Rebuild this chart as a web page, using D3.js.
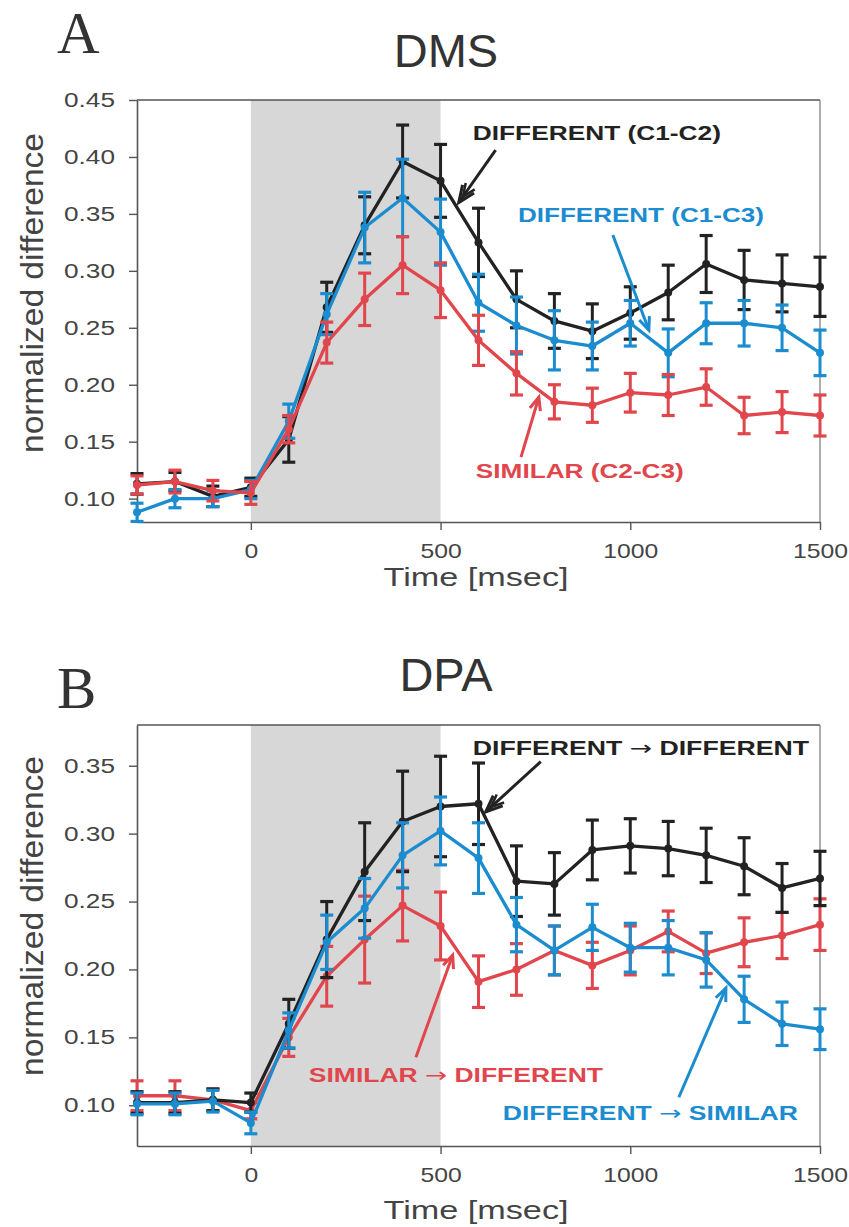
<!DOCTYPE html>
<html>
<head>
<meta charset="utf-8">
<script src="https://cdn.jsdelivr.net/npm/d3@7"></script>
<style>
  body { margin: 0; background: #fff; }
  svg { display: block; }
</style>
</head>
<body>
<div id="chart"></div>
<script>
(function(){
    "use strict";

    // sample times (ms)
    var times = [-300, -200, -100, 0, 100, 200, 300, 400, 500, 600, 700, 800, 900, 1000, 1100, 1200, 1300, 1400, 1500];
    var sampleWindow = [0, 500];
    var xTicks = [0, 500, 1000, 1500];
    var yTicksDms = [0.10, 0.15, 0.20, 0.25, 0.30, 0.35, 0.40, 0.45];
    var yTicksDpa = [0.10, 0.15, 0.20, 0.25, 0.30, 0.35];

    // A: DMS
    var dmsC1C2 = [0.113, 0.115, 0.102, 0.110, 0.152, 0.268, 0.340, 0.396, 0.379, 0.325, 0.275, 0.256, 0.247, 0.263, 0.281, 0.306, 0.292, 0.289, 0.286];
    var dmsC1C2Err = [0.009, 0.008, 0.009, 0.008, 0.020, 0.022, 0.025, 0.032, 0.032, 0.030, 0.025, 0.024, 0.024, 0.023, 0.024, 0.025, 0.026, 0.025, 0.026];
    var dmsC1C3 = [0.088, 0.100, 0.100, 0.108, 0.168, 0.262, 0.338, 0.364, 0.334, 0.272, 0.252, 0.239, 0.234, 0.254, 0.228, 0.254, 0.254, 0.250, 0.228];
    var dmsC1C3Err = [0.008, 0.008, 0.007, 0.008, 0.015, 0.018, 0.031, 0.034, 0.029, 0.025, 0.025, 0.026, 0.021, 0.020, 0.021, 0.018, 0.020, 0.020, 0.020];
    var dmsC2C3 = [0.112, 0.115, 0.107, 0.105, 0.161, 0.237, 0.275, 0.305, 0.283, 0.239, 0.210, 0.185, 0.182, 0.193, 0.191, 0.198, 0.173, 0.176, 0.173];
    var dmsC2C3Err = [0.008, 0.010, 0.009, 0.010, 0.012, 0.018, 0.023, 0.025, 0.024, 0.022, 0.019, 0.015, 0.015, 0.017, 0.018, 0.016, 0.016, 0.018, 0.018];

    // B: DPA
    var dpaDiffDiff = [0.102, 0.102, 0.104, 0.102, 0.160, 0.222, 0.272, 0.309, 0.320, 0.322, 0.265, 0.263, 0.288, 0.291, 0.289, 0.284, 0.276, 0.260, 0.267];
    var dpaDiffDiffErr = [0.008, 0.008, 0.008, 0.007, 0.018, 0.028, 0.036, 0.037, 0.037, 0.030, 0.026, 0.023, 0.022, 0.020, 0.020, 0.020, 0.021, 0.018, 0.020];
    var dpaDiffSim = [0.101, 0.101, 0.103, 0.087, 0.155, 0.220, 0.245, 0.284, 0.302, 0.282, 0.233, 0.214, 0.231, 0.216, 0.216, 0.207, 0.178, 0.160, 0.156];
    var dpaDiffSimErr = [0.008, 0.008, 0.008, 0.008, 0.013, 0.020, 0.022, 0.024, 0.025, 0.026, 0.020, 0.018, 0.017, 0.018, 0.020, 0.020, 0.017, 0.016, 0.015];
    var dpaSimDiff = [0.107, 0.107, 0.104, 0.096, 0.150, 0.195, 0.222, 0.247, 0.232, 0.191, 0.200, 0.214, 0.203, 0.214, 0.228, 0.212, 0.220, 0.225, 0.233];
    var dpaSimDiffErr = [0.011, 0.011, 0.008, 0.006, 0.014, 0.022, 0.032, 0.026, 0.025, 0.019, 0.019, 0.018, 0.017, 0.018, 0.015, 0.015, 0.018, 0.017, 0.019];

    var BLACK = "#222222", BLUE = "#1a8ccf", RED = "#e0464c";
    var SANS = "'Liberation Sans', Arial, sans-serif";

    var width = 849, height = 1227;
    var left = 137, right = 820;

    var svg = d3.select("#chart").append("svg")
        .attr("width", width)
        .attr("height", height);

    var x = d3.scaleLinear().domain([-300, 1500]).range([left, right]);

    var panels = [
        {
            letter: "A", letterY: 53, title: "DMS", titleY: 67,
            top: 100, bottom: 522, yDomain: [0.0795, 0.45], yTicks: yTicksDms,
            ylabelY: 293, xlabelY: 586,
            series: [
                { values: dmsC1C2, err: dmsC1C2Err, color: BLACK },
                { values: dmsC1C3, err: dmsC1C3Err, color: BLUE },
                { values: dmsC2C3, err: dmsC2C3Err, color: RED }
            ],
            notes: [
                { parts: ["DIFFERENT (C1-C2)"], color: BLACK, from: 585, to: 1239, at: 0.415,
                  arrow: [[645, 0.406], [548, 0.360]], double: true },
                { parts: ["DIFFERENT (C1-C3)"], color: BLUE, from: 704, to: 1352, at: 0.343,
                  arrow: [[954, 0.3315], [1049, 0.248]] },
                { parts: ["SIMILAR (C2-C3)"], color: RED, from: 593, to: 1141, at: 0.118,
                  arrow: [[712, 0.1365], [759, 0.189]] }
            ]
        },
        {
            letter: "B", letterY: 708, title: "DPA", titleY: 691,
            top: 725, bottom: 1146, yDomain: [0.07, 0.38], yTicks: yTicksDpa,
            ylabelY: 916, xlabelY: 1219,
            series: [
                { values: dpaSimDiff, err: dpaSimDiffErr, color: RED },
                { values: dpaDiffDiff, err: dpaDiffDiffErr, color: BLACK },
                { values: dpaDiffSim, err: dpaDiffSimErr, color: BLUE }
            ],
            notes: [
                { parts: ["DIFFERENT ", "\u2192", " DIFFERENT"], color: BLACK, from: 585, to: 1471, at: 0.358,
                  arrow: [[764, 0.353], [619, 0.316]], double: true },
                { parts: ["SIMILAR ", "\u2192", " DIFFERENT"], color: RED, from: 153, to: 928, at: 0.117,
                  arrow: [[435, 0.1354], [532, 0.2106]] },
                { parts: ["DIFFERENT ", "\u2192", " SIMILAR"], color: BLUE, from: 664, to: 1442, at: 0.089,
                  arrow: [[1128, 0.1059], [1252, 0.1863]] }
            ]
        }
    ];

    function drawArrow(g, p0, p1, color, double) {
        g.append("line")
            .attr("x1", p0[0]).attr("y1", p0[1])
            .attr("x2", p1[0]).attr("y2", p1[1])
            .attr("stroke", color)
            .attr("stroke-width", 3);
        var ang = Math.atan2(p1[1] - p0[1], p1[0] - p0[0]);
        var spread = 0.4;
        var head = function(tip, l) {
            var a1 = ang + Math.PI - spread, a2 = ang + Math.PI + spread;
            return "M" + (tip[0] + l * Math.cos(a1)) + "," + (tip[1] + l * Math.sin(a1)) +
                "L" + tip[0] + "," + tip[1] +
                "L" + (tip[0] + l * Math.cos(a2)) + "," + (tip[1] + l * Math.sin(a2));
        };
        g.append("path")
            .attr("d", head(p1, double ? 18 : 14))
            .attr("fill", "none")
            .attr("stroke", color)
            .attr("stroke-width", 3);
        if (double) {
            var back = [p1[0] - 7 * Math.cos(ang), p1[1] - 7 * Math.sin(ang)];
            g.append("path")
                .attr("d", head(back, 14))
                .attr("fill", "none")
                .attr("stroke", color)
                .attr("stroke-width", 2.5);
        }
    }

    function drawPanel(p) {
        var y = d3.scaleLinear().domain(p.yDomain).range([p.bottom, p.top]);
        var g = svg.append("g");

        // sample period shading
        g.append("rect")
            .attr("x", x(sampleWindow[0]))
            .attr("y", p.top)
            .attr("width", x(sampleWindow[1]) - x(sampleWindow[0]))
            .attr("height", p.bottom - p.top)
            .attr("fill", "#d7d7d7");

        // frame top / right
        g.append("line")
            .attr("x1", left).attr("x2", right)
            .attr("y1", p.top).attr("y2", p.top)
            .attr("stroke", "#555").attr("stroke-width", 1.5);
        g.append("line")
            .attr("x1", right).attr("x2", right)
            .attr("y1", p.top).attr("y2", p.bottom)
            .attr("stroke", "#777").attr("stroke-width", 1.2);

        var yAxis = g.append("g")
            .attr("transform", "translate(" + left + ",0)")
            .call(d3.axisLeft(y).tickValues(p.yTicks).tickSize(8).tickSizeOuter(0)
                .tickPadding(14).tickFormat(d3.format(".2f")));
        var xAxis = g.append("g")
            .attr("transform", "translate(0," + p.bottom + ")")
            .call(d3.axisBottom(x).tickValues(xTicks).tickSize(8).tickSizeOuter(0)
                .tickPadding(13).tickFormat(d3.format("d")));

        [yAxis, xAxis].forEach(function(ax) {
            ax.select(".domain").attr("stroke", "#555").attr("stroke-width", 1.6);
            ax.selectAll(".tick line").attr("stroke", "#555").attr("stroke-width", 1.4);
            ax.selectAll(".tick text")
                .attr("fill", "#444")
                .attr("font-family", SANS);
        });
        yAxis.selectAll(".tick text")
            .attr("font-size", 20)
            .attr("textLength", 51)
            .attr("lengthAdjust", "spacingAndGlyphs");
        xAxis.selectAll(".tick text")
            .attr("font-size", 21)
            .attr("textLength", function(d) { return String(d).length * 13.75; })
            .attr("lengthAdjust", "spacingAndGlyphs");

        // series
        var line = d3.line()
            .x(function(d) { return x(d[0]); })
            .y(function(d) { return y(d[1]); });

        p.series.forEach(function(s) {
            var pts = times.map(function(t, i) { return [t, s.values[i], s.err[i]]; });
            var sg = g.append("g");

            sg.append("path")
                .datum(pts)
                .attr("d", line)
                .attr("fill", "none")
                .attr("stroke", s.color)
                .attr("stroke-width", 3.3)
                .attr("stroke-linejoin", "round");

            sg.selectAll(".bar")
                .data(pts)
                .enter()
                .append("line")
                .attr("x1", function(d) { return x(d[0]); })
                .attr("x2", function(d) { return x(d[0]); })
                .attr("y1", function(d) { return y(d[1] - d[2]); })
                .attr("y2", function(d) { return y(d[1] + d[2]); })
                .attr("stroke", s.color)
                .attr("stroke-width", 3);

            [-1, 1].forEach(function(sign) {
                sg.selectAll(".cap" + sign)
                    .data(pts)
                    .enter()
                    .append("line")
                    .attr("x1", function(d) { return x(d[0]) - 6.5; })
                    .attr("x2", function(d) { return x(d[0]) + 6.5; })
                    .attr("y1", function(d) { return y(d[1] + sign * d[2]); })
                    .attr("y2", function(d) { return y(d[1] + sign * d[2]); })
                    .attr("stroke", s.color)
                    .attr("stroke-width", 3.2);
            });

            sg.selectAll("circle")
                .data(pts)
                .enter()
                .append("circle")
                .attr("cx", function(d) { return x(d[0]); })
                .attr("cy", function(d) { return y(d[1]); })
                .attr("r", 4)
                .attr("fill", s.color);
        });

        // annotations
        p.notes.forEach(function(n) {
            var t = g.append("text")
                .attr("x", x(n.from))
                .attr("y", y(n.at))
                .attr("fill", n.color)
                .attr("font-family", SANS)
                .attr("font-weight", "bold")
                .attr("font-size", 20)
                .attr("textLength", x(n.to) - x(n.from))
                .attr("lengthAdjust", "spacingAndGlyphs");
            n.parts.forEach(function(part) {
                var ts = t.append("tspan").text(part);
                if (part === "\u2192") {
                    ts.attr("font-family", "'DejaVu Sans', sans-serif").attr("font-weight", "normal");
                }
            });
            drawArrow(g,
                [x(n.arrow[0][0]), y(n.arrow[0][1])],
                [x(n.arrow[1][0]), y(n.arrow[1][1])],
                n.color, n.double);
        });

        // titles and labels
        svg.append("text")
            .attr("x", 57)
            .attr("y", p.letterY)
            .attr("font-family", "'Liberation Serif', 'Times New Roman', serif")
            .attr("font-size", 59)
            .attr("fill", "#333")
            .text(p.letter);

        svg.append("text")
            .attr("x", 446)
            .attr("y", p.titleY)
            .attr("text-anchor", "middle")
            .attr("font-family", SANS)
            .attr("font-size", 47)
            .attr("fill", "#333")
            .text(p.title);

        svg.append("text")
            .attr("transform", "translate(43," + p.ylabelY + ") rotate(-90)")
            .attr("text-anchor", "middle")
            .attr("font-family", SANS)
            .attr("font-size", 32)
            .attr("fill", "#444")
            .attr("textLength", 320)
            .attr("lengthAdjust", "spacingAndGlyphs")
            .text("normalized difference");

        svg.append("text")
            .attr("x", 476)
            .attr("y", p.xlabelY)
            .attr("text-anchor", "middle")
            .attr("font-family", SANS)
            .attr("font-size", 26)
            .attr("fill", "#444")
            .attr("textLength", 185)
            .attr("lengthAdjust", "spacingAndGlyphs")
            .text("Time [msec]");
    }

    panels.forEach(drawPanel);
})();
</script>
</body>
</html>
